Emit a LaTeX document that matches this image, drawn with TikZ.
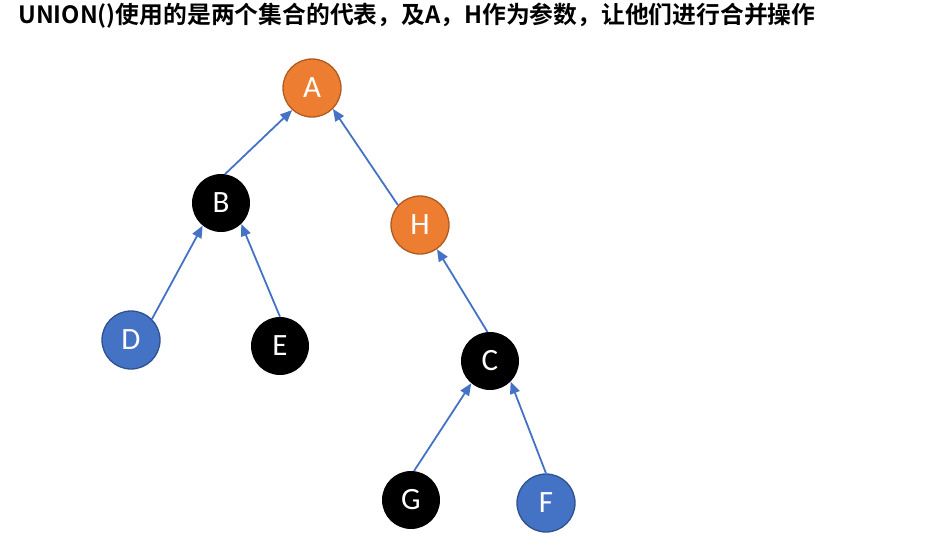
\documentclass[tikz,border=0pt]{standalone}
\usepackage{fontspec}
\setmainfont{Carlito}
\newfontfamily\cjk{Noto Sans CJK SC Bold}
\usetikzlibrary{arrows.meta}
\definecolor{orangefill}{HTML}{ED7D31}
\definecolor{orangeline}{HTML}{AE5A21}
\definecolor{bluefill}{HTML}{4472C4}
\definecolor{blueline}{HTML}{2F528F}
\tikzset{
  vertex/.style={circle,minimum size=58pt,inner sep=0pt,text=white,font=\fontsize{31}{31}\selectfont},
  rootvertex/.style={vertex,fill=orangefill,draw=orangeline,line width=1.3pt},
  leafvertex/.style={vertex,fill=bluefill,draw=blueline,line width=1.3pt},
  plainvertex/.style={vertex,fill=black},
  parent/.style={draw=bluefill,line width=1.8pt,-{Triangle[length=12pt,width=10pt]}}
}
\begin{document}
\begin{tikzpicture}[x=1pt,y=-1pt]
 \useasboundingbox (0,0) rectangle (929,546);
 \node [anchor=west,inner sep=0pt] (title) at (18,16)
   {\cjk\fontsize{23.8}{26}\selectfont UNION()使用的是两个集合的代表，及A，H作为参数，让他们进行合并操作};
 % the two trees
 \node [rootvertex] (A) at (312,88) {A};
 \node [plainvertex] (B) at (221,203) {B};
 \node [rootvertex] (H) at (420,225) {H};
 \node [leafvertex] (D) at (131,340) {D};
 \node [plainvertex] (E) at (280,346) {E};
 \node [plainvertex] (C) at (490,361) {C};
 \node [plainvertex] (G) at (411,500) {G};
 \node [leafvertex] (F) at (546,503) {F};
 % parent pointers
 \draw [parent] (B.82) -- (A.228);
 \draw [parent] (H.138) -- (A.315);
 \draw [parent] (D.45) -- (B.231);
 \draw [parent] (E.90) -- (B.314);
 \draw [parent] (C.95) -- (H.305);
 \draw [parent] (G.84) -- (C.230);
 \draw [parent] (F.90) -- (C.315);
\end{tikzpicture}
\end{document}
